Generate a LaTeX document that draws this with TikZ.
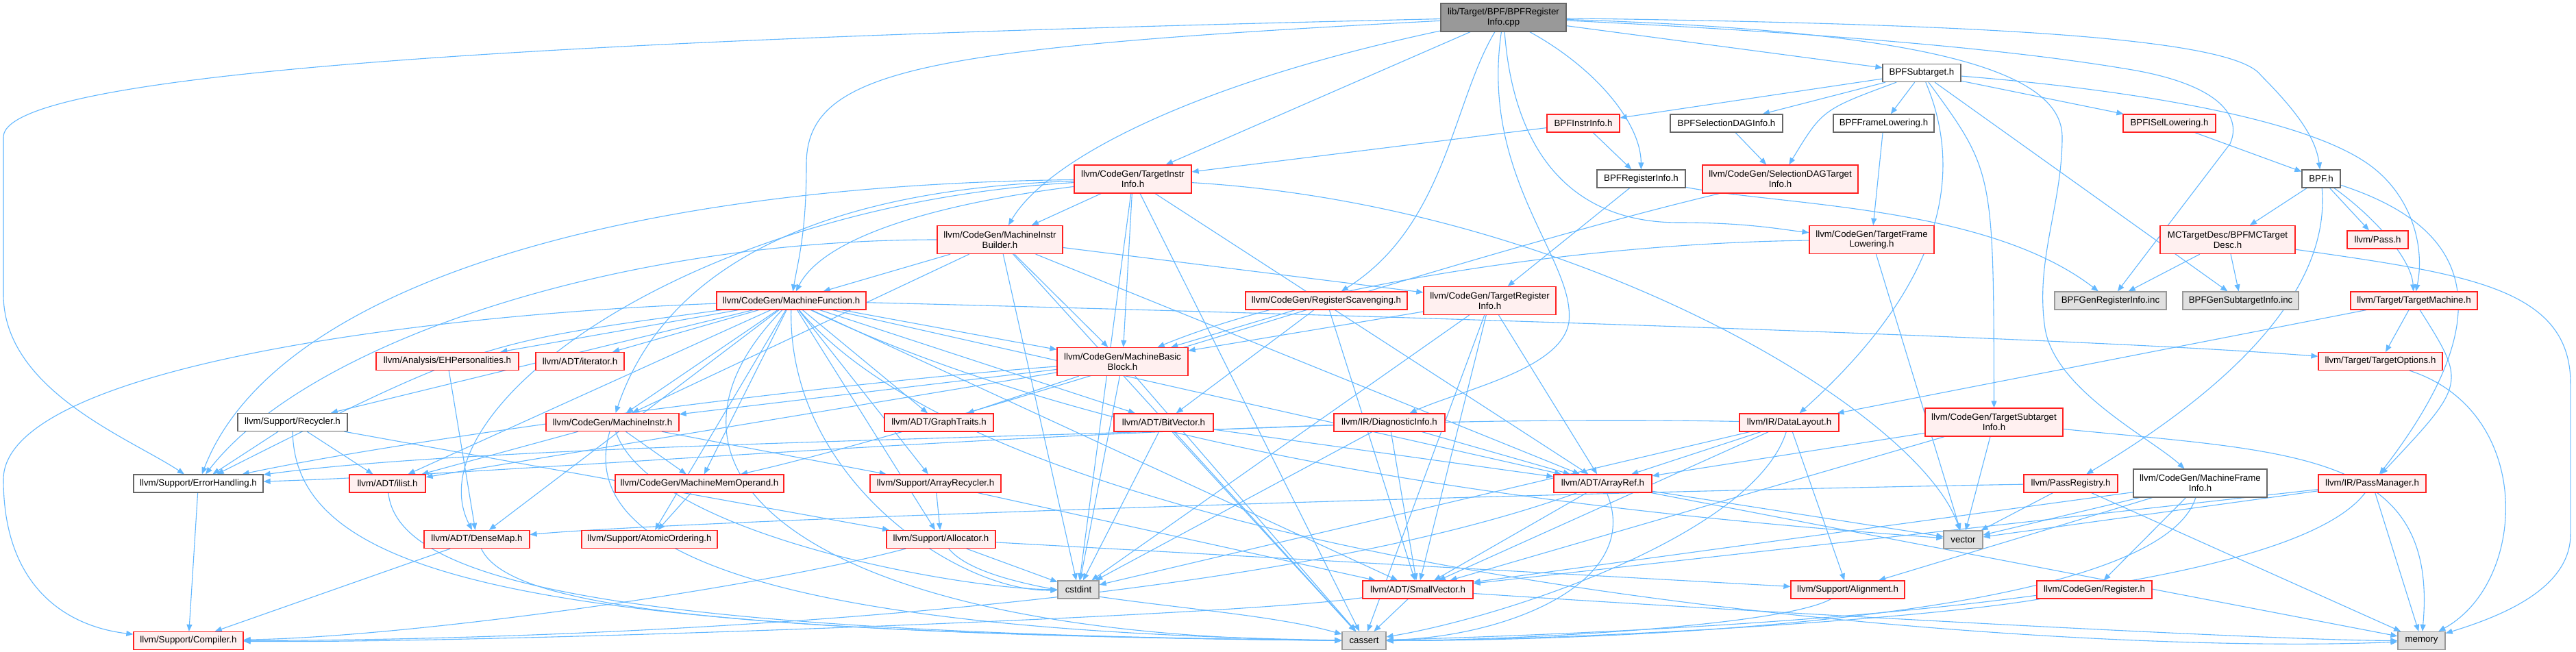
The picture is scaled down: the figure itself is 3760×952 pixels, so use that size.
\documentclass[tikz,border=0pt]{standalone}
\usepackage{fontspec}
\setmainfont{Liberation Sans}
\usetikzlibrary{arrows.meta}
\pgfdeclarelayer{bg}
\pgfsetlayers{bg,main}
\definecolor{edgec}{HTML}{63B8FF}
\definecolor{pinkf}{HTML}{FFF0F0}
\definecolor{redb}{HTML}{FF2020}
\definecolor{grayb}{HTML}{666666}
\definecolor{sysf}{HTML}{E0E0E0}
\definecolor{sysb}{HTML}{999999}
\definecolor{rootf}{HTML}{999999}
\newcommand\dxfont{\fontsize{13.3}{14.6}\selectfont}
\tikzset{
  base/.style={inner sep=0pt, minimum height=26pt, align=center, font=\dxfont, text=black, line width=1.3pt},
  rn/.style={base, draw=redb, fill=pinkf},
  wn/.style={base, draw=grayb, fill=white},
  sn/.style={base, draw=sysb, fill=sysf},
  rootn/.style={base, draw=grayb, fill=rootf},
  ed/.style={draw=edgec, line width=1.1pt, -{Triangle[length=10pt,width=8pt]}}
}
\begin{document}
\begin{tikzpicture}[x=1pt,y=-1pt]
\useasboundingbox (0,0) rectangle (3760,952);
\node[rootn, minimum width=183, minimum height=41] (r) at (2194.5,25.5) {lib/Target/BPF/BPFRegister\\Info.cpp};
\node[wn, minimum width=114] (sub) at (2805,106.5) {BPFSubtarget.h};
\node[rn, minimum width=106] (instr) at (2311,180) {BPFInstrInfo.h};
\node[wn, minimum width=164] (seldag) at (2520,180) {BPFSelectionDAGInfo.h};
\node[wn, minimum width=147] (bfl) at (2749.5,180) {BPFFrameLowering.h};
\node[rn, minimum width=135] (isel) at (3166.5,180) {BPFISelLowering.h};
\node[wn, minimum width=129] (bpfreg) at (2395.5,261) {BPFRegisterInfo.h};
\node[rn, minimum width=227, minimum height=41] (sdti) at (2598.5,261.5) {llvm/CodeGen/SelectionDAGTarget\\Info.h};
\node[rn, minimum width=171, minimum height=41] (tii) at (1653.5,261.5) {llvm/CodeGen/TargetInstr\\Info.h};
\node[wn, minimum width=56] (bpf) at (3388,261) {BPF.h};
\node[rn, minimum width=183, minimum height=41] (mib) at (1459.5,350) {llvm/CodeGen/MachineInstr\\Builder.h};
\node[rn, minimum width=182, minimum height=41] (tfl) at (2732,350) {llvm/CodeGen/TargetFrame\\Lowering.h};
\node[rn, minimum width=197, minimum height=41] (mctd) at (3251.5,350) {MCTargetDesc/BPFMCTarget\\Desc.h};
\node[rn, minimum width=89] (pass) at (3470.5,350) {llvm/Pass.h};
\node[rn, minimum width=218] (mfunc) at (1155,439) {llvm/CodeGen/MachineFunction.h};
\node[rn, minimum width=236] (rscav) at (1936,439) {llvm/CodeGen/RegisterScavenging.h};
\node[rn, minimum width=193, minimum height=41] (tri) at (2174.5,439) {llvm/CodeGen/TargetRegister\\Info.h};
\node[sn, minimum width=163] (genreg) at (3080.5,439) {BPFGenRegisterInfo.inc};
\node[sn, minimum width=169] (gensub) at (3270.5,439) {BPFGenSubtargetInfo.inc};
\node[rn, minimum width=185] (tm) at (3523.5,439) {llvm/Target/TargetMachine.h};
\node[rn, minimum width=208] (ehp) at (653,527.5) {llvm/Analysis/EHPersonalities.h};
\node[rn, minimum width=129] (iter) at (846.5,527.5) {llvm/ADT/iterator.h};
\node[rn, minimum width=191, minimum height=41] (mbb) at (1638.5,528) {llvm/CodeGen/MachineBasic\\Block.h};
\node[rn, minimum width=181] (topt) at (3474.5,527.5) {llvm/Target/TargetOptions.h};
\node[wn, minimum width=160] (recy) at (427,616.5) {llvm/Support/Recycler.h};
\node[rn, minimum width=194] (minstr) at (894,616.5) {llvm/CodeGen/MachineInstr.h};
\node[rn, minimum width=159] (gtr) at (1370.5,617) {llvm/ADT/GraphTraits.h};
\node[rn, minimum width=145] (bitv) at (1698.5,617) {llvm/ADT/BitVector.h};
\node[rn, minimum width=162] (diag) at (2028,617) {llvm/IR/DiagnosticInfo.h};
\node[rn, minimum width=145] (dl) at (2611.5,617) {llvm/IR/DataLayout.h};
\node[rn, minimum width=201, minimum height=41] (tsi) at (2910.5,616.5) {llvm/CodeGen/TargetSubtarget\\Info.h};
\node[wn, minimum width=189] (errh) at (289.5,706) {llvm/Support/ErrorHandling.h};
\node[rn, minimum width=111] (ilist) at (565.5,706) {llvm/ADT/ilist.h};
\node[rn, minimum width=246] (mmo) at (1021,706) {llvm/CodeGen/MachineMemOperand.h};
\node[rn, minimum width=191] (arec) at (1365.5,706) {llvm/Support/ArrayRecycler.h};
\node[rn, minimum width=143] (aref) at (2339.5,706) {llvm/ADT/ArrayRef.h};
\node[rn, minimum width=137] (preg) at (3022.5,706) {llvm/PassRegistry.h};
\node[wn, minimum width=195, minimum height=41] (mfi) at (3211.5,705.5) {llvm/CodeGen/MachineFrame\\Info.h};
\node[rn, minimum width=157] (pm) at (3462.5,706) {llvm/IR/PassManager.h};
\node[rn, minimum width=154] (dmap) at (696,787.5) {llvm/ADT/DenseMap.h};
\node[rn, minimum width=198] (atom) at (948,787.5) {llvm/Support/AtomicOrdering.h};
\node[rn, minimum width=159] (alloc) at (1373.5,787.5) {llvm/Support/Allocator.h};
\node[sn, minimum width=57] (vec) at (2865.5,788) {vector};
\node[sn, minimum width=60] (cstd) at (1574,861) {cstdint};
\node[rn, minimum width=161] (svec) at (2069.5,861) {llvm/ADT/SmallVector.h};
\node[rn, minimum width=166] (align) at (2697,861) {llvm/Support/Alignment.h};
\node[rn, minimum width=168] (reg) at (3057,861) {llvm/CodeGen/Register.h};
\node[rn, minimum width=160] (comp) at (275,935.5) {llvm/Support/Compiler.h};
\node[sn, minimum width=64] (cass) at (1991,935.5) {cassert};
\node[sn, minimum width=69] (mem) at (3534.5,935.5) {memory};

\begin{pgfonlayer}{bg}
\fill[white] (0,0) rectangle (3760,952);
% root
\draw[ed] (r) .. controls (900,55) and (5,100) .. (5,200) -- (5,430) .. controls (5,570) and (190,640) .. (errh);
\draw[ed] (r) .. controls (1350,70) and (1177,100) .. (1177,240) .. controls (1177,340) and (1165,380) .. (mfunc);
\draw[ed] (r) .. controls (1750,120) and (1530,230) .. (mib);
\draw[ed] (r) -- (tii);
\draw[ed] (r) .. controls (2120,150) and (2110,330) .. (rscav);
\draw[ed] (r) .. controls (2160,260) and (2300,380) .. (2290,470) .. controls (2280,540) and (2130,570) .. (diag);
\draw[ed] (r) .. controls (2210,230) and (2300,325) .. (2450,325) .. controls (2550,325) and (2600,335) .. (tfl);
\draw[ed] (r) .. controls (2330,100) and (2395,180) .. (bpfreg);
\draw[ed] (r) -- (sub);
\draw[ed] (r) .. controls (2900,35) and (3260,55) .. (3300,110) .. controls (3350,160) and (3380,200) .. (bpf);
\draw[ed] (r) .. controls (2700,50) and (2950,75) .. (3100,100) .. controls (3230,120) and (3275,165) .. (3255,210) -- (genreg);
\draw[ed] (r) .. controls (2800,45) and (3010,100) .. (3010,200) .. controls (3010,300) and (2970,380) .. (2985,480) .. controls (3000,570) and (3140,640) .. (mfi);
% BPFSubtarget
\draw[ed] (sub) -- (instr);
\draw[ed] (sub) -- (seldag);
\draw[ed] (sub) -- (bfl);
\draw[ed] (sub) .. controls (2660,160) .. (sdti);
\draw[ed] (sub) -- (isel);
\draw[ed] (sub) .. controls (2910,250) .. (tsi);
\draw[ed] (sub) .. controls (2870,260) and (2830,420) .. (dl);
\draw[ed] (sub) .. controls (3100,130) and (3350,170) .. (3450,235) .. controls (3520,280) and (3540,360) .. (tm);
\draw[ed] (sub) -- (gensub);
% others
\draw[ed] (instr) -- (bpfreg);
\draw[ed] (instr) -- (tii);
\draw[ed] (seldag) -- (sdti);
\draw[ed] (bfl) -- (tfl);
\draw[ed] (isel) -- (bpf);
\draw[ed] (bpfreg) -- (tri);
\draw[ed] (bpfreg) .. controls (2600,300) and (2900,300) .. (genreg);
\draw[ed] (bpf) -- (mctd);
\draw[ed] (bpf) -- (pass);
\draw[ed] (bpf) .. controls (3470,320) and (3520,380) .. (tm);
\draw[ed] (bpf) .. controls (3400,400) and (3300,540) .. (preg);
\draw[ed] (bpf) .. controls (3600,330) and (3660,450) .. (pm);
\draw[ed] (mctd) -- (genreg);
\draw[ed] (mctd) -- (gensub);
\draw[ed] (mctd) .. controls (3600,400) and (3752,420) .. (3752,560) -- (3752,780) .. controls (3752,860) and (3650,900) .. (mem);
\draw[ed] (tm) -- (dl);
\draw[ed] (tm) -- (topt);
\draw[ed] (tm) .. controls (3600,560) .. (pm);
\draw[ed] (topt) .. controls (3700,600) and (3690,850) .. (mem);
\draw[ed] (tfl) .. controls (2300,355) and (1900,420) .. (mbb);
\draw[ed] (tfl) -- (vec);
\draw[ed] (sdti) .. controls (2100,380) and (1400,620) .. (mmo);
% TargetInstrInfo
\draw[ed] (tii) -- (mib);
\draw[ed] (tii) .. controls (1350,300) and (1200,350) .. (mfunc);
\draw[ed] (tii) -- (mbb);
\draw[ed] (tii) .. controls (1100,280) and (950,450) .. (minstr);
\draw[ed] (tii) .. controls (900,270) and (400,420) .. (errh);
\draw[ed] (tii) .. controls (1000,300) and (600,600) .. (dmap);
\draw[ed] (tii) -- (aref);
\draw[ed] (tii) -- (cass);
\draw[ed] (tii) -- (cstd);
\draw[ed] (tii) .. controls (2300,300) and (2800,600) .. (vec);
% MachineInstrBuilder
\draw[ed] (mib) -- (mfunc);
\draw[ed] (mib) -- (mbb);
\draw[ed] (mib) -- (minstr);
\draw[ed] (mib) -- (tri);
\draw[ed] (mib) -- (aref);
\draw[ed] (mib) .. controls (900,350) and (450,500) .. (errh);
\draw[ed] (mib) -- (cass);
\draw[ed] (mib) -- (cstd);
% MachineFunction
\draw[ed] (mfunc) -- (ilist);
\draw[ed] (mfunc) -- (iter);
\draw[ed] (mfunc) -- (aref);
\draw[ed] (mfunc) -- (bitv);
\draw[ed] (mfunc) -- (dmap);
\draw[ed] (mfunc) -- (gtr);
\draw[ed] (mfunc) -- (svec);
\draw[ed] (mfunc) -- (ehp);
\draw[ed] (mfunc) -- (mbb);
\draw[ed] (mfunc) -- (minstr);
\draw[ed] (mfunc) -- (mmo);
\draw[ed] (mfunc) -- (arec);
\draw[ed] (mfunc) -- (atom);
\draw[ed] (mfunc) .. controls (600,460) and (5,540) .. (5,700) .. controls (5,860) and (100,915) .. (comp);
\draw[ed] (mfunc) -- (recy);
\draw[ed] (mfunc) .. controls (1800,455) and (3000,490) .. (topt);
\draw[ed] (mfunc) .. controls (900,700) and (1200,930) .. (cass);
\draw[ed] (mfunc) .. controls (1150,700) and (1400,865) .. (cstd);
\draw[ed] (mfunc) .. controls (1500,850) and (3000,960) .. (mem);
\draw[ed] (mfunc) .. controls (1700,700) and (2500,760) .. (vec);
\draw[ed] (mfunc) -- (alloc);
\draw[ed] (mfunc) .. controls (700,500) .. (errh);
% RegisterScavenging
\draw[ed] (rscav) -- (bitv);
\draw[ed] (rscav) -- (svec);
\draw[ed] (rscav) -- (mbb);
% TargetRegisterInfo
\draw[ed] (tri) -- (mbb);
\draw[ed] (tri) -- (aref);
\draw[ed] (tri) -- (svec);
\draw[ed] (tri) -- (cass);
\draw[ed] (tri) -- (cstd);
% DiagnosticInfo
\draw[ed] (diag) -- (aref);
\draw[ed] (diag) -- (svec);
\draw[ed] (diag) -- (cstd);
\draw[ed] (diag) .. controls (1500,640) and (700,650) .. (errh);
% DataLayout
\draw[ed] (dl) -- (aref);
\draw[ed] (dl) -- (svec);
\draw[ed] (dl) -- (align);
\draw[ed] (dl) .. controls (1800,600) and (800,690) .. (errh);
\draw[ed] (dl) .. controls (2560,780) and (2200,900) .. (cass);
\draw[ed] (dl) -- (cstd);
% TargetSubtargetInfo
\draw[ed] (tsi) -- (aref);
\draw[ed] (tsi) -- (svec);
\draw[ed] (tsi) -- (vec);
\draw[ed] (tsi) .. controls (3350,660) and (3560,660) .. (mem);
% MachineFrameInfo
\draw[ed] (mfi) -- (vec);
\draw[ed] (mfi) -- (svec);
\draw[ed] (mfi) -- (align);
\draw[ed] (mfi) .. controls (3150,900) and (2400,935) .. (cass);
\draw[ed] (mfi) -- (reg);
% PassRegistry
\draw[ed] (preg) -- (vec);
\draw[ed] (preg) -- (mem);
\draw[ed] (preg) .. controls (2200,720) and (1000,760) .. (dmap);
% PassManager
\draw[ed] (pm) -- (vec);
\draw[ed] (pm) -- (svec);
\draw[ed] (pm) -- (mem);
\draw[ed] (pm) .. controls (3330,880) and (2500,920) .. (cass);
% lower
\draw[ed] (reg) .. controls (2800,905) and (2300,935) .. (cass);
\draw[ed] (mmo) -- (atom);
\draw[ed] (minstr) -- (ilist);
\draw[ed] (minstr) -- (mmo);
\draw[ed] (minstr) -- (arec);
\draw[ed] (minstr) .. controls (840,800) and (1100,920) .. (cass);
\draw[ed] (minstr) .. controls (950,780) and (1400,860) .. (cstd);
\draw[ed] (mbb) -- (minstr);
\draw[ed] (mbb) -- (gtr);
\draw[ed] (mbb) -- (ilist);
\draw[ed] (mbb) -- (cstd);
\draw[ed] (mbb) -- (cass);
\draw[ed] (mbb) .. controls (1200,560) and (600,640) .. (errh);
\draw[ed] (arec) -- (alloc);
\draw[ed] (arec) -- (svec);
\draw[ed] (alloc) .. controls (1100,860) and (600,930) .. (comp);
\draw[ed] (alloc) -- (align);
\draw[ed] (alloc) .. controls (1450,880) and (1800,880) .. (cass);
\draw[ed] (alloc) -- (cstd);
\draw[ed] (recy) -- (errh);
\draw[ed] (recy) -- (ilist);
\draw[ed] (recy) -- (alloc);
\draw[ed] (recy) .. controls (430,850) and (800,925) .. (cass);
\draw[ed] (ilist) .. controls (580,850) and (900,925) .. (cass);
\draw[ed] (dmap) -- (comp);
\draw[ed] (dmap) .. controls (740,880) and (1000,925) .. (cass);
\draw[ed] (ehp) -- (dmap);
\draw[ed] (bitv) -- (aref);
\draw[ed] (bitv) -- (cass);
\draw[ed] (bitv) -- (cstd);
\draw[ed] (errh) -- (comp);
\draw[ed] (aref) -- (svec);
\draw[ed] (aref) .. controls (1800,900) and (800,935) .. (comp);
\draw[ed] (aref) .. controls (2400,850) and (2200,930) .. (cass);
\draw[ed] (aref) -- (mem);
\draw[ed] (aref) -- (vec);
\draw[ed] (svec) .. controls (1800,900) and (700,940) .. (comp);
\draw[ed] (svec) -- (cass);
\draw[ed] (svec) .. controls (2500,890) and (3300,935) .. (mem);
\draw[ed] (align) .. controls (2600,915) and (2200,935) .. (cass);
\end{pgfonlayer}
\end{tikzpicture}
\end{document}
